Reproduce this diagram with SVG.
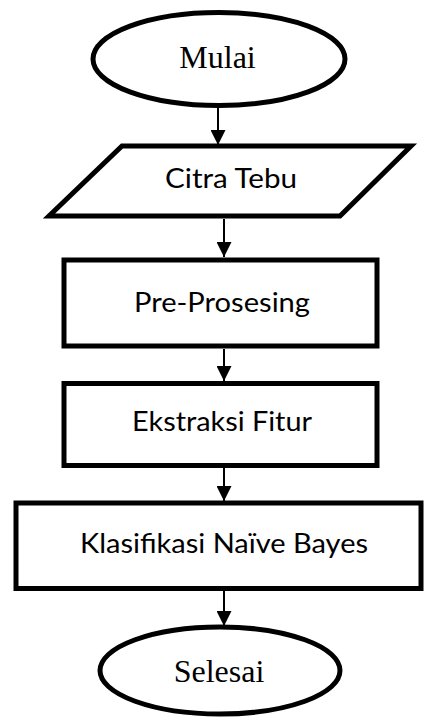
<svg xmlns="http://www.w3.org/2000/svg" width="424" height="717" viewBox="0 0 424 717">
  <defs>
    <marker id="arrow" markerWidth="15" markerHeight="15" refX="15" refY="7.5" orient="auto" markerUnits="userSpaceOnUse">
      <path d="M0,0 L15,7.5 L0,15 Z" fill="#000"/>
    </marker>
    <style>
      .shape { fill: #fff; stroke: #000; stroke-width: 5; }
      .serif { font-family: "Liberation Serif", "Times New Roman", serif; font-size: 32px; fill: #000; text-anchor: middle; }
      .sans { font-family: Lato, "Open Sans", sans-serif; font-size: 26px; fill: #000; }
      .link { stroke: #000; stroke-width: 2; fill: none; marker-end: url(#arrow); }
    </style>
  </defs>
  <rect width="424" height="717" fill="#fff"/>

  <g id="connectors">
    <line class="link" x1="218" y1="107" x2="218" y2="145"/>
    <line class="link" x1="224" y1="219" x2="224" y2="257"/>
    <line class="link" x1="224" y1="349" x2="224" y2="381"/>
    <line class="link" x1="224" y1="468" x2="224" y2="501"/>
    <line class="link" x1="224" y1="591" x2="224" y2="626"/>
  </g>

  <g id="mulai">
    <ellipse class="shape" cx="219" cy="59" rx="126" ry="46.5"/>
    <text class="serif" x="217.5" y="68">Mulai</text>
  </g>

  <g id="citra-tebu">
    <polygon class="shape" points="122,146 411,146 340,216 49,216"/>
    <text class="sans" x="165" y="188" textLength="132" lengthAdjust="spacingAndGlyphs">Citra Tebu</text>
  </g>

  <g id="pre-prosesing">
    <rect class="shape" x="64" y="260" width="313" height="86"/>
    <text class="sans" x="134" y="312" textLength="176" lengthAdjust="spacingAndGlyphs">Pre-Prosesing</text>
  </g>

  <g id="ekstraksi-fitur">
    <rect class="shape" x="64" y="383.5" width="313" height="82"/>
    <text class="sans" x="132" y="431" textLength="180" lengthAdjust="spacingAndGlyphs">Ekstraksi Fitur</text>
  </g>

  <g id="klasifikasi">
    <rect class="shape" x="16" y="503" width="405" height="85.5"/>
    <text class="sans" x="80" y="553" textLength="288" lengthAdjust="spacingAndGlyphs">Klasifikasi Naïve Bayes</text>
  </g>

  <g id="selesai">
    <ellipse class="shape" cx="220" cy="670.5" rx="120" ry="43.5"/>
    <text class="serif" x="219" y="682">Selesai</text>
  </g>
</svg>
